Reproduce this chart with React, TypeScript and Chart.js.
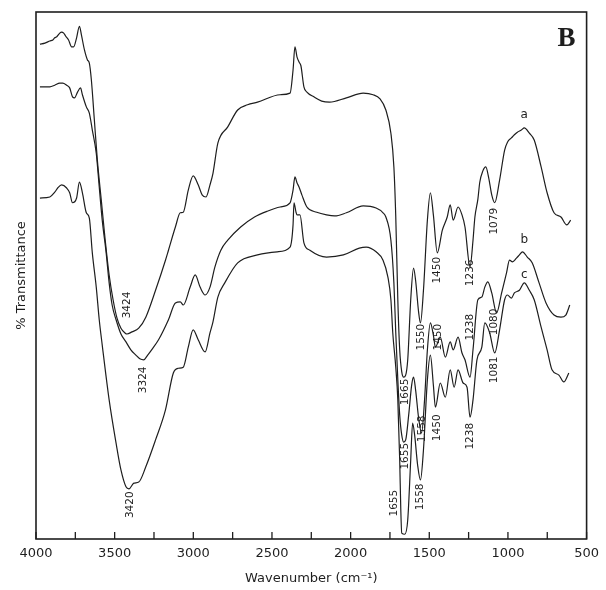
import React, { useEffect, useRef } from 'react';
import { Chart, registerables } from 'chart.js';

Chart.register(...registerables);

// ---- spectrum a (top trace) ----
const aWavenumber = [3975, 3943, 3912, 3893, 3881, 3868, 3849, 3837, 3824, 3811, 3793, 3774, 3761, 3742, 3724, 3711, 3692, 3673, 3661, 3648, 3629, 3610, 3585, 3560, 3535, 3510, 3485, 3460, 3434, 3422, 3390, 3347, 3302, 3240, 3177, 3158, 3114, 3083, 3064, 3032, 3001, 2969, 2944, 2919, 2894, 2875, 2844, 2781, 2718, 2655, 2592, 2448, 2385, 2366, 2354, 2341, 2328, 2316, 2297, 2278, 2234, 2184, 2134, 2027, 1920, 1857, 1813, 1776, 1744, 1725, 1713, 1700, 1688, 1675, 1663, 1650, 1637, 1618, 1600, 1587, 1568, 1556, 1537, 1512, 1493, 1474, 1449, 1417, 1386, 1367, 1348, 1317, 1292, 1273, 1241, 1222, 1210, 1191, 1179, 1160, 1141, 1122, 1103, 1084, 1053, 1021, 1003, 978, 959, 940, 915, 896, 864, 833, 789, 751, 707, 663, 626, 601];
const aTransmittance = [93.9, 94.1, 94.5, 94.7, 95.1, 95.3, 96.0, 96.2, 96.0, 95.4, 94.7, 93.4, 93.4, 95.1, 97.3, 95.6, 92.8, 90.9, 90.3, 87.1, 79.5, 71.9, 64.3, 56.7, 50.1, 45.4, 41.9, 40.0, 39.1, 38.9, 39.3, 40.0, 42.1, 47.2, 52.9, 54.8, 59.2, 61.9, 62.0, 66.2, 68.9, 67.2, 65.3, 64.9, 67.2, 69.4, 75.1, 78.2, 81.4, 82.4, 82.9, 84.3, 84.6, 89.0, 93.4, 91.5, 90.5, 89.8, 85.8, 84.8, 83.9, 83.1, 82.9, 83.7, 84.6, 84.3, 83.5, 81.4, 77.0, 70.6, 61.1, 45.4, 35.9, 31.7, 30.7, 31.1, 34.0, 45.4, 51.4, 49.1, 43.1, 41.0, 47.2, 60.5, 65.7, 61.5, 54.3, 58.6, 61.1, 63.4, 60.5, 63.0, 61.5, 59.2, 51.6, 56.7, 61.1, 64.5, 67.7, 69.8, 70.6, 68.5, 65.3, 63.8, 68.1, 73.8, 75.3, 76.1, 76.7, 77.2, 77.6, 78.0, 77.0, 75.7, 70.6, 65.7, 61.9, 61.1, 59.6, 60.5];

// ---- spectrum b (middle trace) ----
const bWavenumber = [3975, 3912, 3881, 3849, 3830, 3805, 3786, 3768, 3755, 3736, 3717, 3705, 3680, 3661, 3642, 3617, 3598, 3579, 3554, 3535, 3516, 3491, 3460, 3428, 3397, 3365, 3340, 3315, 3290, 3265, 3221, 3158, 3114, 3083, 3064, 3020, 2988, 2957, 2925, 2894, 2863, 2825, 2781, 2699, 2611, 2530, 2448, 2385, 2366, 2354, 2341, 2328, 2310, 2278, 2215, 2153, 2102, 2027, 1920, 1838, 1794, 1776, 1744, 1725, 1713, 1700, 1688, 1675, 1663, 1650, 1631, 1612, 1600, 1587, 1568, 1549, 1530, 1512, 1493, 1474, 1461, 1430, 1398, 1367, 1348, 1317, 1292, 1273, 1241, 1222, 1191, 1166, 1147, 1128, 1103, 1072, 1040, 1009, 990, 971, 946, 927, 908, 877, 846, 802, 758, 707, 663, 632, 607];
const bTransmittance = [85.8, 85.8, 86.1, 86.5, 86.5, 86.1, 85.6, 83.9, 83.7, 84.8, 85.6, 84.3, 82.0, 80.8, 77.6, 73.2, 66.8, 60.5, 54.3, 48.6, 44.4, 41.6, 38.9, 37.4, 35.9, 34.9, 34.2, 34.0, 34.9, 35.9, 37.8, 41.6, 44.8, 45.0, 44.4, 47.8, 50.1, 47.8, 46.3, 47.8, 51.6, 54.8, 56.7, 59.2, 61.1, 62.2, 63.0, 63.8, 66.2, 68.7, 67.6, 66.8, 65.3, 63.0, 62.0, 61.5, 61.3, 61.9, 63.2, 62.8, 61.9, 61.1, 56.7, 48.6, 39.1, 30.2, 23.5, 19.7, 18.4, 18.8, 23.5, 29.2, 30.7, 28.3, 23.0, 20.1, 26.4, 35.9, 41.0, 38.7, 36.4, 38.3, 34.5, 37.4, 35.9, 38.3, 35.3, 34.0, 30.7, 35.9, 45.4, 45.9, 47.8, 48.8, 46.7, 42.9, 46.7, 50.5, 52.9, 52.6, 53.3, 53.9, 54.5, 53.5, 52.4, 48.6, 44.8, 42.5, 42.1, 42.5, 44.4];

// ---- spectrum c (bottom trace) ----
const cWavenumber = [3975, 3912, 3881, 3862, 3837, 3805, 3786, 3768, 3742, 3724, 3705, 3680, 3661, 3642, 3617, 3598, 3579, 3535, 3491, 3460, 3428, 3409, 3378, 3347, 3302, 3240, 3177, 3127, 3095, 3064, 3032, 3001, 2969, 2925, 2894, 2875, 2844, 2800, 2718, 2592, 2467, 2385, 2366, 2360, 2347, 2341, 2322, 2297, 2259, 2153, 2046, 1945, 1901, 1838, 1794, 1763, 1744, 1732, 1713, 1700, 1688, 1681, 1675, 1656, 1637, 1618, 1606, 1593, 1574, 1556, 1537, 1512, 1493, 1474, 1461, 1430, 1398, 1367, 1342, 1317, 1285, 1260, 1241, 1222, 1197, 1166, 1147, 1116, 1084, 1053, 1021, 1003, 978, 959, 927, 896, 864, 833, 789, 751, 720, 676, 645, 613];
const cTransmittance = [64.7, 64.9, 65.8, 66.6, 67.2, 66.6, 65.7, 63.8, 64.7, 67.7, 65.7, 61.9, 60.9, 54.3, 47.8, 41.6, 36.8, 26.4, 18.2, 13.1, 9.9, 9.5, 10.6, 10.8, 13.7, 18.8, 24.5, 31.5, 32.4, 32.6, 36.4, 39.7, 37.8, 35.5, 39.1, 41.2, 45.9, 48.6, 52.4, 53.9, 54.5, 55.4, 59.6, 63.8, 62.0, 61.5, 61.5, 56.2, 54.8, 53.5, 53.9, 55.2, 55.4, 54.5, 52.9, 49.7, 45.4, 39.1, 32.6, 26.4, 15.0, 5.5, 1.1, 0.9, 3.6, 15.0, 22.0, 19.7, 14.0, 11.2, 16.9, 30.2, 34.9, 29.2, 25.0, 29.6, 26.9, 32.1, 28.8, 32.1, 29.6, 28.8, 23.1, 26.4, 34.0, 36.4, 41.0, 39.1, 35.3, 39.7, 45.4, 46.3, 45.7, 46.7, 47.2, 48.6, 47.2, 45.4, 40.2, 35.9, 32.1, 31.1, 29.8, 31.5];

// ---- axis ticks ----
const xTickLabels = [4000, 3500, 3000, 2500, 2000, 1500, 1000, 500];
const xMinorTicks = [4000, 3750, 3500, 3250, 3000, 2750, 2500, 2250, 2000, 1750, 1500, 1250, 1000, 750, 500];

// ---- peak annotations ----
const peakText = ['3424', '3324', '3420', '1665', '1655', '1655', '1550', '1558', '1558', '1450', '1450', '1450', '1236', '1238', '1238', '1079', '1080', '1081'];
const peakWavenumber = [3422, 3315, 3403, 1650, 1650, 1725, 1549, 1543, 1556, 1449, 1443, 1449, 1241, 1241, 1241, 1084, 1084, 1084];
const peakValue = [44.4, 30.2, 6.5, 27.9, 15.7, 6.8, 38.3, 20.9, 8.0, 51.0, 38.3, 21.1, 50.5, 40.2, 19.5, 60.3, 41.2, 32.1];

// ---- trace names ----
const traceNames = ['a', 'b', 'c'];
const traceNameWavenumber = [896, 896, 896];
const traceNameValue = [80.5, 56.7, 50.1];

const INK = '#1e1e1e';

const toPoints = (xs: number[], ys: number[]) => xs.map((x, i) => ({ x, y: ys[i] }));

const decorPlugin = {
  id: 'decor',
  afterDatasetsDraw(chart: any) {
    const { ctx, chartArea, scales } = chart;
    const { left, top, right, bottom } = chartArea;
    const x = scales.x;
    const y = scales.y;
    ctx.save();
    ctx.strokeStyle = INK;
    ctx.lineWidth = 1.6;
    ctx.strokeRect(left, top, right - left, bottom - top);
    ctx.lineWidth = 1.3;
    xMinorTicks.forEach((w) => {
      const px = x.getPixelForValue(w);
      ctx.beginPath();
      ctx.moveTo(px, bottom);
      ctx.lineTo(px, bottom - 7);
      ctx.stroke();
    });
    ctx.fillStyle = INK;
    ctx.font = '10.5px "DejaVu Sans"';
    ctx.textAlign = 'center';
    ctx.textBaseline = 'middle';
    peakText.forEach((t, i) => {
      const px = x.getPixelForValue(peakWavenumber[i]);
      const py = y.getPixelForValue(peakValue[i]);
      ctx.save();
      ctx.translate(px, py);
      ctx.rotate(-Math.PI / 2);
      ctx.fillText(t, 0, 0);
      ctx.restore();
    });
    ctx.font = '12px "DejaVu Sans"';
    traceNames.forEach((t, i) => {
      ctx.fillText(t, x.getPixelForValue(traceNameWavenumber[i]), y.getPixelForValue(traceNameValue[i]));
    });
    ctx.font = 'bold 27px "Liberation Serif"';
    ctx.fillText('B', right - 20, top + 27);
    ctx.restore();
  },
};

export default function App() {
  const ref = useRef<HTMLCanvasElement>(null);
  useEffect(() => {
    if (!ref.current) return;
    const lineStyle = {
      borderColor: INK,
      borderWidth: 1.2,
      pointRadius: 0,
      fill: false,
      cubicInterpolationMode: 'monotone' as const,
    };
    const chart = new Chart(ref.current, {
      type: 'line',
      data: {
        datasets: [
          { label: 'a', data: toPoints(aWavenumber, aTransmittance), ...lineStyle },
          { label: 'b', data: toPoints(bWavenumber, bTransmittance), ...lineStyle },
          { label: 'c', data: toPoints(cWavenumber, cTransmittance), ...lineStyle },
        ],
      },
      options: {
        animation: false,
        responsive: false,
        maintainAspectRatio: false,
        layout: { padding: { left: 0, right: 13, top: 12, bottom: 0 } },
        plugins: { legend: { display: false }, tooltip: { enabled: false } },
        scales: {
          x: {
            type: 'linear',
            reverse: true,
            min: 500,
            max: 4000,
            grid: { display: false, drawTicks: false },
            border: { display: false },
            afterBuildTicks: (scale: any) => {
              scale.ticks = xTickLabels.map((v) => ({ value: v }));
            },
            afterFit: (scale: any) => {
              scale.height = 51;
            },
            ticks: {
              padding: 7,
              autoSkip: false,
              maxRotation: 0,
              color: INK,
              font: { family: 'DejaVu Sans', size: 13 },
              callback: (v: any) => String(v),
            },
            title: {
              display: true,
              text: 'Wavenumber (cm\u207B\u00B9)',
              color: INK,
              font: { family: 'DejaVu Sans', size: 13 },
              padding: { top: 0, bottom: 4 },
            },
          },
          y: {
            type: 'linear',
            min: 0,
            max: 100,
            grid: { display: false, drawTicks: false },
            border: { display: false },
            ticks: { display: false },
            afterFit: (scale: any) => {
              scale.width = 36;
            },
            title: {
              display: true,
              text: '% Transmittance',
              color: INK,
              font: { family: 'DejaVu Sans', size: 13 },
              padding: { top: 14, bottom: 0 },
            },
          },
        },
      },
      plugins: [decorPlugin],
    } as any);
    return () => chart.destroy();
  }, []);
  return (
    <div style={{ position: 'fixed', left: 0, top: 0, width: 606, height: 590, background: '#ffffff' }}>
      <canvas ref={ref} width={606} height={590} style={{ display: 'block' }} />
    </div>
  );
}
